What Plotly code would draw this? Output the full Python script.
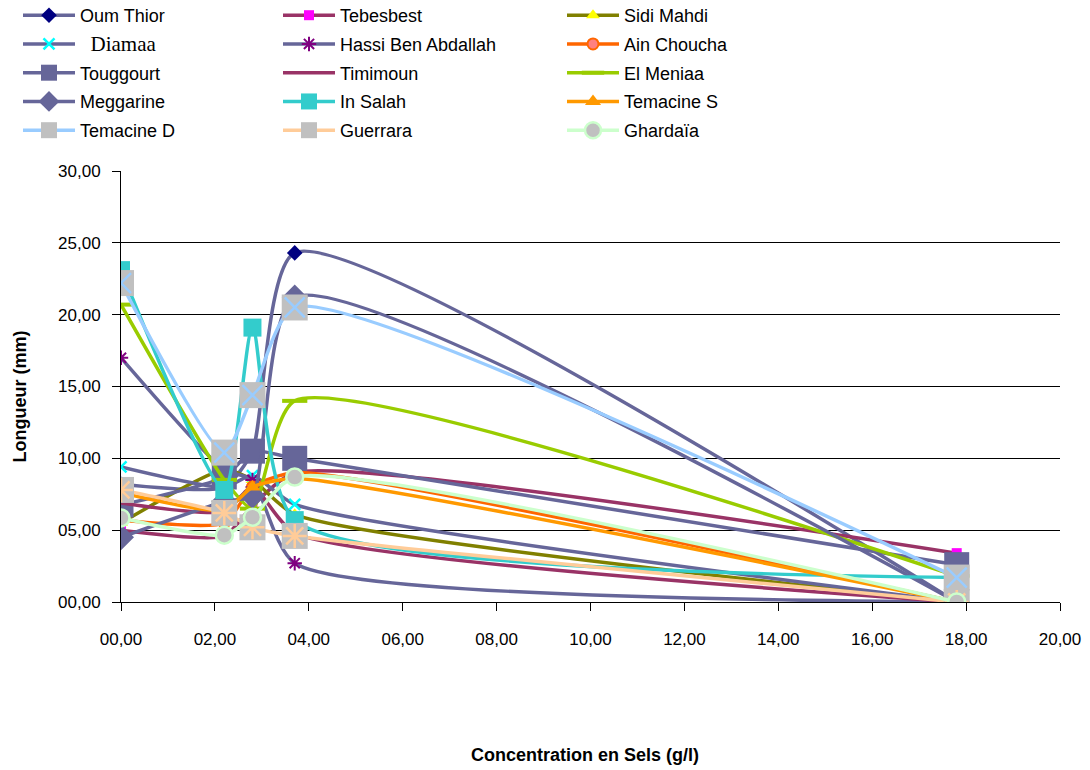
import plotly.graph_objects as go

# Salt concentration (g/l) and root length (mm) per population
conc = [0.0, 2.2, 2.8, 3.7, 17.8]

oum_thior = [8.2, 8.0, 10.5, 24.3, 0.0]
tebesbest = [5.0, 4.6, 6.7, 9.0, 3.4]
sidi_mahdi = [5.5, 9.2, 8.5, 6.1, 0.0]
diamaa = [9.4, 8.0, 8.8, 6.8, 0.0]
hassi_ben_abdallah = [17.0, 9.2, 8.5, 2.7, 0.0]
ain_choucha = [5.7, 5.5, 8.0, 9.0, 0.0]
touggourt = [6.75, 8.7, 10.5, 10.0, 2.6]
timimoun = [6.9, 6.3, 8.0, 4.8, 0.0]
el_meniaa = [20.7, 8.5, 6.5, 14.0, 1.8]
meggarine = [4.5, 7.0, 7.4, 21.2, 0.0]
in_salah = [23.1, 7.8, 19.1, 5.7, 1.7]
temacine_s = [7.6, 6.4, 8.0, 8.6, 0.0]
temacine_d = [22.2, 10.4, 14.4, 20.5, 1.7]
guerrara = [7.8, 6.2, 5.2, 4.6, 0.0]
ghardaia = [5.85, 4.65, 5.9, 8.7, 0.0]

SLATE = "#666699"
GRAY = "#C0C0C0"

# name, values, line colour, marker dict, legend column
series = [
    ("Oum Thior", oum_thior, SLATE, dict(symbol="diamond", size=12, color="#000080"), "legend"),
    ("Tebesbest", tebesbest, "#993366", dict(symbol="square", size=10, color="#FF00FF"), "legend2"),
    ("Sidi Mahdi", sidi_mahdi, "#808000", dict(symbol="triangle-up", size=12, color="#FFFF00"), "legend3"),
    ('<span style="font-family:Liberation Serif, serif;font-size:21px">  Diamaa</span>', diamaa, SLATE,
     dict(symbol="x-thin", size=11, color="#00FFFF", line=dict(color="#00FFFF", width=2.5)), "legend"),
    ("Hassi Ben Abdallah", hassi_ben_abdallah, SLATE,
     dict(symbol="asterisk", size=12, color="#800080", line=dict(color="#800080", width=2)), "legend2"),
    ("Ain Choucha", ain_choucha, "#FF6600",
     dict(symbol="circle", size=11, color="#FF8080", line=dict(color="#FF6600", width=2)), "legend3"),
    ("Touggourt", touggourt, SLATE, dict(symbol="square", size=25, color=SLATE), "legend"),
    ("Timimoun", timimoun, "#993366",
     dict(symbol="line-ew", size=10, color="#993366", line=dict(color="#993366", width=2)), "legend2"),
    ("El Meniaa", el_meniaa, "#99CC00",
     dict(symbol="line-ew", size=18, color="#99CC00", line=dict(color="#99CC00", width=4)), "legend3"),
    ("Meggarine", meggarine, SLATE, dict(symbol="diamond", size=20, color=SLATE), "legend"),
    ("In Salah", in_salah, "#33CCCC", dict(symbol="square", size=18, color="#33CCCC"), "legend2"),
    ("Temacine S", temacine_s, "#FF9900", dict(symbol="triangle-up", size=14, color="#FF9900"), "legend3"),
    ("Temacine D", temacine_d, "#99CCFF", dict(symbol="square", size=26, color=GRAY), "legend"),
    ("Guerrara", guerrara, "#FFCC99", dict(symbol="square", size=26, color=GRAY), "legend2"),
    ("Ghardaïa", ghardaia, "#CCFFCC",
     dict(symbol="circle", size=17, color=GRAY, line=dict(color="#CCFFCC", width=2.5)), "legend3"),
]

# glyphs drawn on top of the grey square markers
overlays = {
    "Temacine D": dict(symbol="x-thin", size=20, line=dict(color="#99CCFF", width=2.5)),
    "Guerrara": dict(symbol="asterisk", size=20, line=dict(color="#FFCC99", width=2.5)),
}

fig = go.Figure()
for i, (name, vals, lc, mk, leg) in enumerate(series):
    fig.add_trace(go.Scatter(
        x=conc, y=vals, name=name, mode="lines+markers",
        line=dict(color=lc, width=3.5, shape="spline", smoothing=0.6),
        marker=mk, legend=leg, legendgroup=f"g{i}",
    ))
    if name in overlays:
        fig.add_trace(go.Scatter(
            x=conc, y=vals, mode="markers", marker=overlays[name],
            showlegend=False, legendgroup=f"g{i}", hoverinfo="skip",
        ))

LEGEND_TOP = (602 + 3) / 431  # paper units, a few px above the page edge

legend_common = dict(
    xref="container", yref="paper", xanchor="left", yanchor="top",
    font=dict(family="Liberation Sans, Arial", size=18, color="#000000"),
    bgcolor="rgba(0,0,0,0)", borderwidth=0, itemwidth=52,
    tracegroupgap=2.35, orientation="v",
)

fig.update_layout(
    width=1090, height=770,
    margin=dict(l=121, r=30, t=171, b=168, autoexpand=False),
    paper_bgcolor="white", plot_bgcolor="white",
    separators=", ",
    font=dict(family="Liberation Sans, Arial", size=17, color="#000000"),
    legend=dict(x=18 / 1090, y=LEGEND_TOP, **legend_common),
    legend2=dict(x=278 / 1090, y=LEGEND_TOP, **legend_common),
    legend3=dict(x=562 / 1090, y=LEGEND_TOP, **legend_common),
    xaxis=dict(
        range=[0, 20], dtick=2, tick0=0, tickformat="05.2f",
        showgrid=False, zeroline=False, automargin=False,
        showline=True, linecolor="#000000", linewidth=1,
        ticks="outside", ticklen=8, tickcolor="#000000",
        tickfont=dict(size=17), ticklabelstandoff=14,
    ),
    yaxis=dict(
        range=[0, 30], dtick=5, tick0=0, tickformat="05.2f",
        showgrid=True, gridcolor="#000000", gridwidth=1,
        zeroline=False, automargin=False,
        showline=True, linecolor="#000000", linewidth=1,
        ticks="outside", ticklen=8, tickcolor="#000000",
        tickfont=dict(size=17), ticklabelstandoff=8,
    ),
    annotations=[
        dict(text="<b>Concentration en Sels (g/l)</b>", xref="paper", yref="paper",
             x=0.494, y=-0.355, xanchor="center", yanchor="middle",
             showarrow=False, font=dict(size=18)),
        dict(text="<b>Longueur (mm)</b>", xref="paper", yref="paper",
             x=-0.108, y=0.476, xanchor="center", yanchor="middle", textangle=-90,
             showarrow=False, font=dict(size=18)),
    ],
)

fig.write_html("out.html")
